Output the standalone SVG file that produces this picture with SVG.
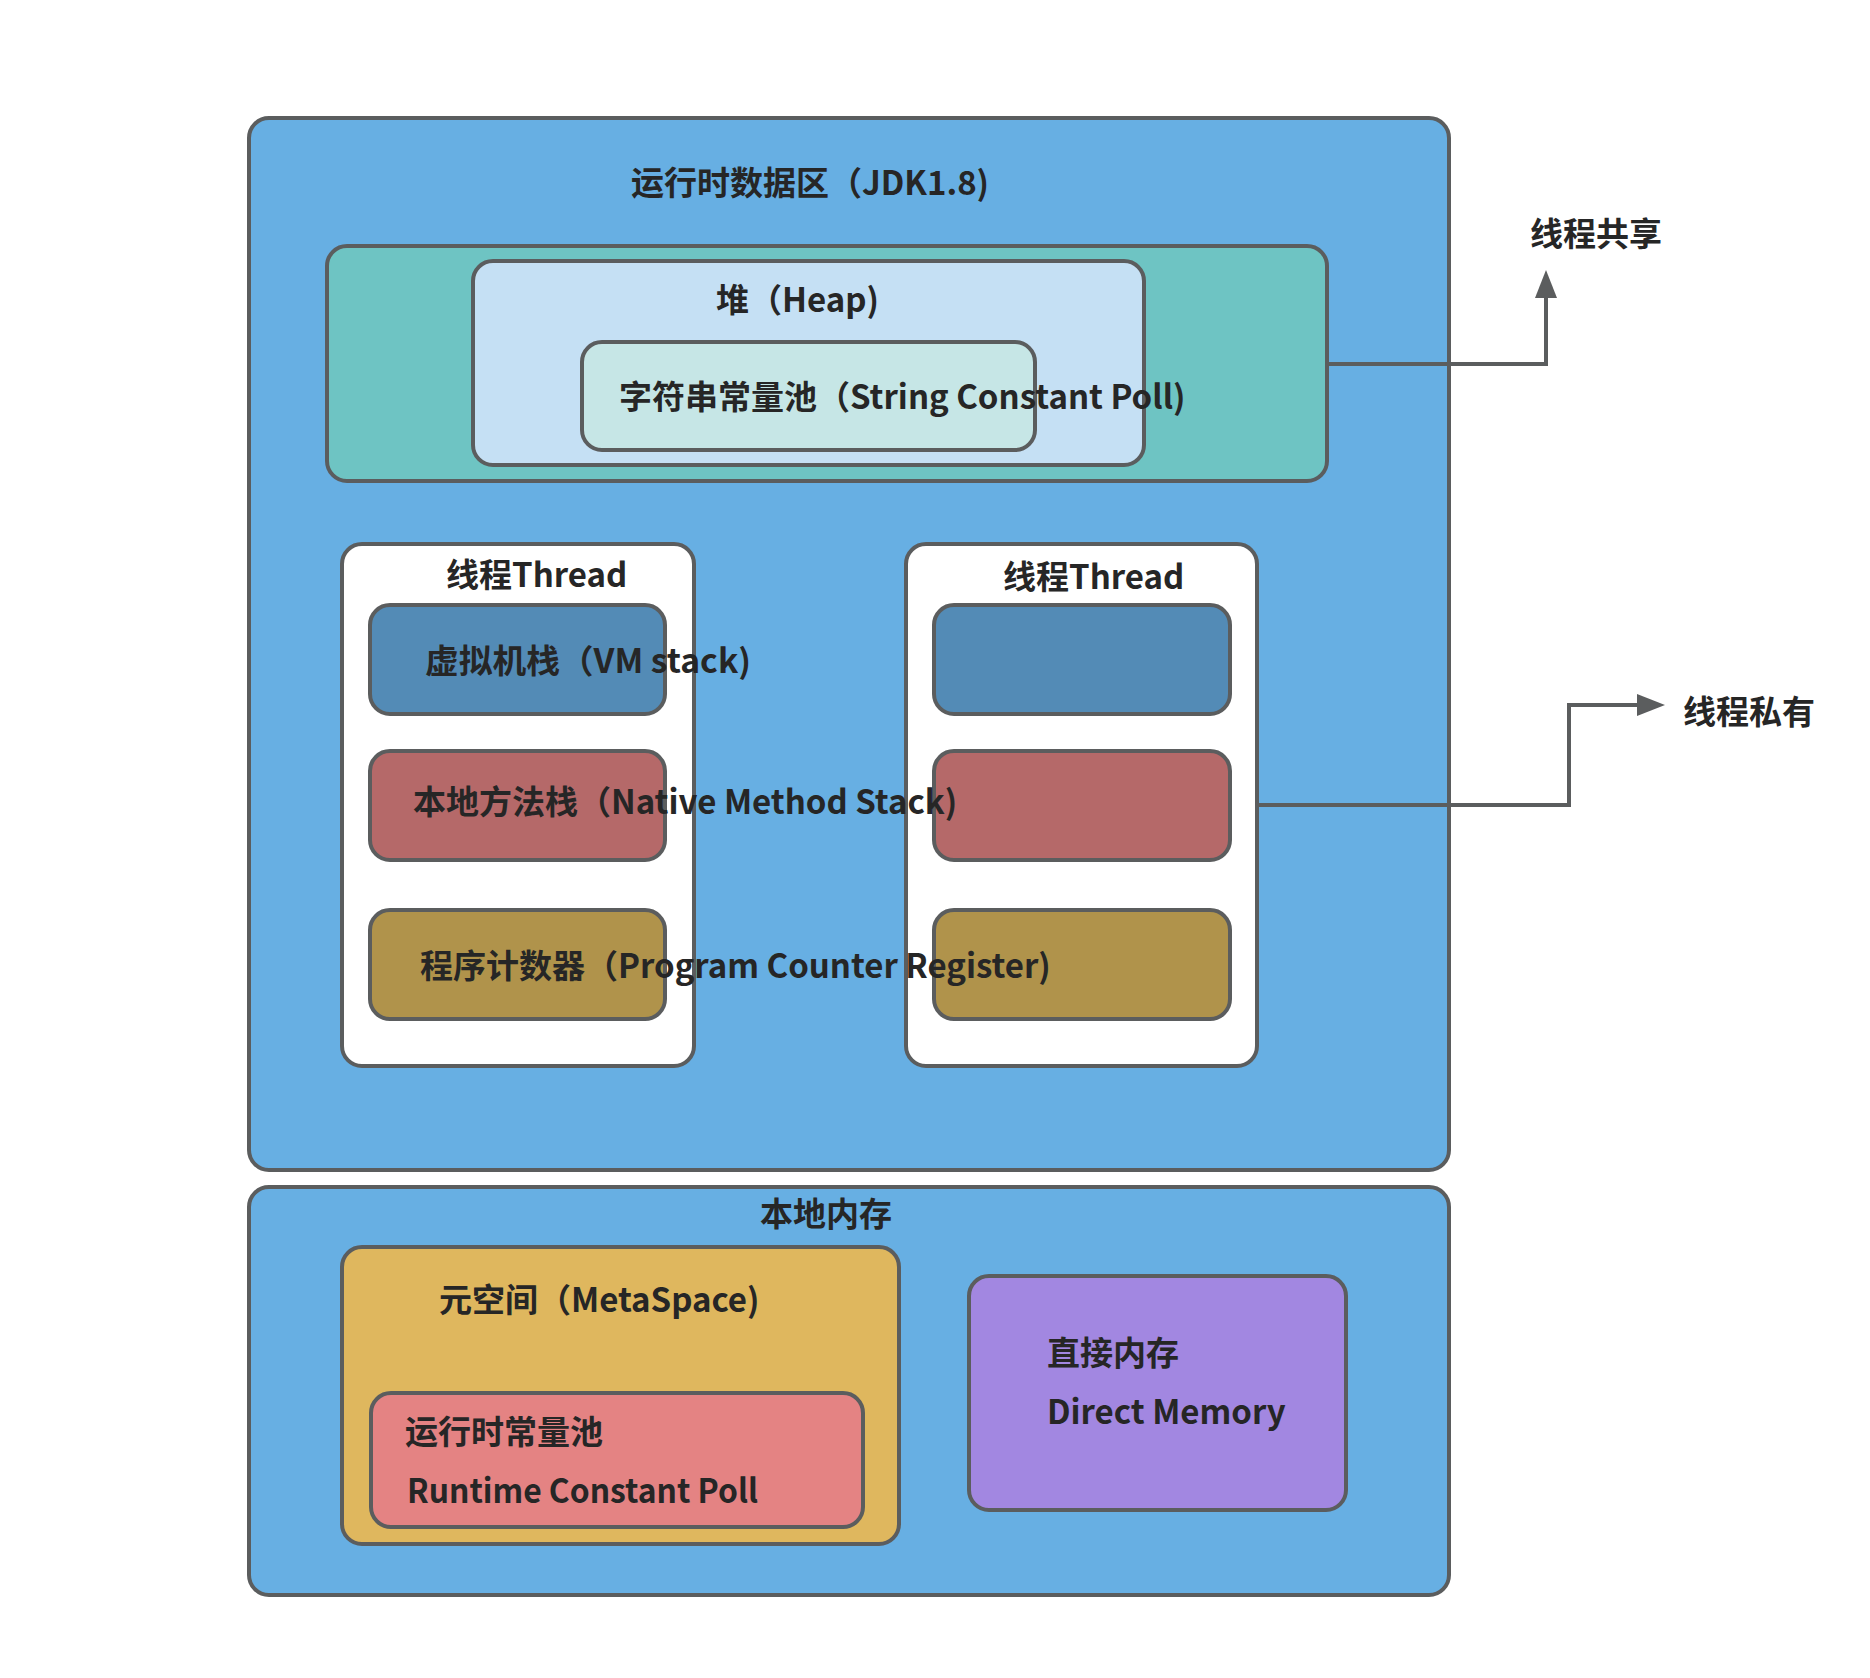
<svg xmlns="http://www.w3.org/2000/svg" width="1870" height="1678" viewBox="0 0 1870 1678">
  <style>
    .box { stroke: #5b5d5e; stroke-width: 4; }
    .t { font-family: "Noto Sans CJK SC", "Noto Sans", sans-serif; font-weight: bold; font-size: 33px; fill: #262626; }
    .conn { fill: none; stroke: #5b5d5e; stroke-width: 4; }
  </style>
  <defs>
    <marker id="arrow" markerUnits="userSpaceOnUse" markerWidth="30" markerHeight="24" viewBox="0 -12 30 24" refX="0" refY="0" orient="auto">
      <path d="M0,-11 L28,0 L0,11 Z" fill="#5b5d5e"/>
    </marker>
  </defs>
  <rect width="1870" height="1678" fill="#ffffff"/>

  <g id="runtime-area">
    <rect class="box" x="249" y="118" width="1200" height="1052" rx="20" fill="#67afe3"/>
    <text class="t" x="631" y="195">运行时数据区（JDK1.8)</text>
  </g>

  <g id="shared-area">
    <rect class="box" x="327" y="246" width="1000" height="235" rx="20" fill="#6ec4c3"/>
  </g>

  <g id="heap">
    <rect class="box" x="473" y="261" width="671" height="204" rx="20" fill="#c5e0f4"/>
    <text class="t" x="716" y="312">堆（Heap)</text>
  </g>

  <g id="string-pool">
    <rect class="box" x="582" y="342" width="453" height="108" rx="20" fill="#c6e6e6"/>
    <text class="t" x="619" y="409">字符串常量池（String Constant Poll)</text>
  </g>

  <g id="thread-1">
    <rect class="box" x="342" y="544" width="352" height="522" rx="20" fill="#ffffff"/>
    <text class="t" x="446" y="587">线程Thread</text>
  </g>

  <g id="thread-2">
    <rect class="box" x="906" y="544" width="351" height="522" rx="20" fill="#ffffff"/>
    <text class="t" x="1003" y="589">线程Thread</text>
  </g>

  <g id="vm-stack-1">
    <rect class="box" x="370" y="605" width="295" height="109" rx="20" fill="#538bb6"/>
  </g>
  <g id="native-stack-1">
    <rect class="box" x="370" y="751" width="295" height="109" rx="20" fill="#b56969"/>
  </g>
  <g id="pc-1">
    <rect class="box" x="370" y="910" width="295" height="109" rx="20" fill="#b0934b"/>
  </g>

  <g id="vm-stack-2">
    <rect class="box" x="934" y="605" width="296" height="109" rx="20" fill="#538bb6"/>
  </g>
  <g id="native-stack-2">
    <rect class="box" x="934" y="751" width="296" height="109" rx="20" fill="#b56969"/>
  </g>
  <g id="pc-2">
    <rect class="box" x="934" y="910" width="296" height="109" rx="20" fill="#b0934b"/>
  </g>

  <g id="labels-thread">
    <text class="t" x="425" y="673" textLength="326" lengthAdjust="spacingAndGlyphs">虚拟机栈（VM stack)</text>
    <text class="t" x="413" y="814">本地方法栈（Native Method Stack)</text>
    <text class="t" x="420" y="978">程序计数器（Program Counter Register)</text>
  </g>

  <g id="native-memory">
    <rect class="box" x="249" y="1187" width="1200" height="408" rx="20" fill="#67afe3"/>
    <text class="t" x="760" y="1226">本地内存</text>
  </g>

  <g id="metaspace">
    <rect class="box" x="342" y="1247" width="557" height="297" rx="20" fill="#dfb75e"/>
    <text class="t" x="439" y="1312">元空间（MetaSpace)</text>
  </g>

  <g id="runtime-pool">
    <rect class="box" x="371" y="1393" width="492" height="134" rx="20" fill="#e48383"/>
    <text class="t" x="405" y="1444">运行时常量池</text>
    <text class="t" x="407" y="1503" textLength="351" lengthAdjust="spacingAndGlyphs">Runtime Constant Poll</text>
  </g>

  <g id="direct-memory">
    <rect class="box" x="969" y="1276" width="377" height="234" rx="20" fill="#a287e1"/>
    <text class="t" x="1047" y="1365">直接内存</text>
    <text class="t" x="1047" y="1424">Direct Memory</text>
  </g>

  <g id="label-shared">
    <text class="t" x="1530" y="246">线程共享</text>
  </g>
  <g id="label-private">
    <text class="t" x="1683" y="724">线程私有</text>
  </g>

  <g id="connectors">
    <path class="conn" d="M1327,364 L1546,364 L1546,298" marker-end="url(#arrow)"/>
    <path class="conn" d="M1257,805 L1569,805 L1569,705 L1637,705" marker-end="url(#arrow)"/>
  </g>
</svg>
